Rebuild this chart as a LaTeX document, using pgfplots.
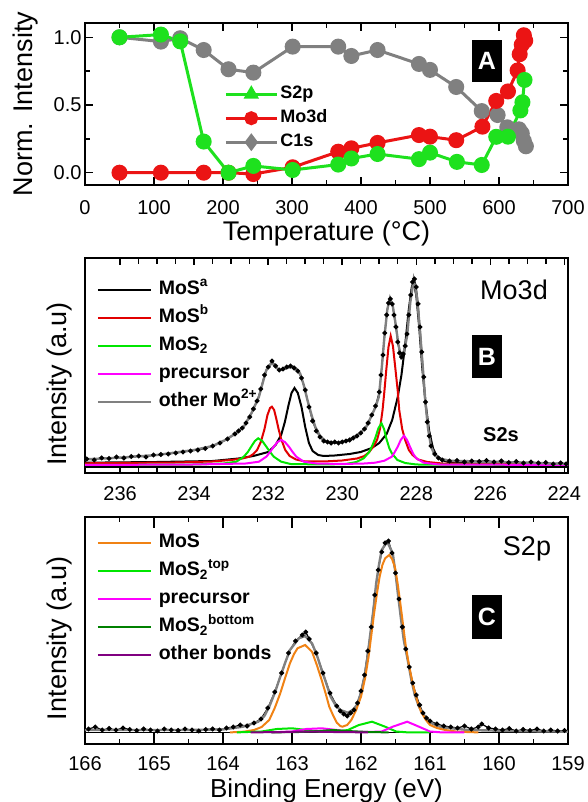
\documentclass[border=0pt]{standalone}
\usepackage{fontspec}
\setmainfont{Liberation Sans}
\usepackage{pgfplots}
\pgfplotsset{compat=1.18}
\definecolor{sgreen}{RGB}{30,225,30}
\definecolor{sred}{RGB}{235,20,20}
\definecolor{sgray}{RGB}{128,128,128}
\definecolor{fgreen}{RGB}{0,230,0}
\definecolor{fred}{RGB}{225,0,0}
\definecolor{fmag}{RGB}{255,0,255}
\definecolor{forange}{RGB}{240,130,20}
\definecolor{fdgreen}{RGB}{0,128,0}
\definecolor{fpurple}{RGB}{128,0,128}

\pgfplotsset{
  panel/.style={
    scale only axis, width=483pt,
    axis line style={line width=2.6pt},
    every tick/.style={black, line width=1.5pt},
    tick align=inside,
    ticklabel style={font=\fontsize{20}{24}\selectfont},
    /pgf/number format/assume math mode=true,
    label style={font=\fontsize{27}{32}\selectfont},
    legend cell align=left,
  },
  spec/.style={panel, x dir=reverse, ytick=\empty,
    legend image code/.code={\draw[##1] (0pt,0pt) -- (53pt,0pt);},
    legend style={draw=none, fill=none, inner sep=0pt, column sep=7pt, row sep=9pt,
      font=\bfseries\fontsize{19.5}{20}\selectfont,
      nodes={inner sep=0pt, text height=14pt, text depth=5pt}},
  },
  alegend/.style={
    legend image code/.code={\draw[mark repeat=2, mark phase=2, ##1] plot coordinates {(0pt,0pt) (25.5pt,0pt) (51pt,0pt)};},
  },
}

\begin{document}
\begin{tikzpicture}
\path[use as bounding box] (0,0) rectangle (587pt,802pt);

% ---------------- panel A
\begin{axis}[panel, alegend, at={(85pt,617pt)}, anchor=south west, height=162pt,
  xmin=0, xmax=700, ymin=-0.0908, ymax=1.1056,
  xtick={0,100,...,700}, minor x tick num=1,
  ytick={0,0.5,1}, minor y tick num=1,
  major tick length=8pt, minor tick length=5pt,
  yticklabel style={/pgf/number format/fixed, /pgf/number format/fixed zerofill,
    /pgf/number format/precision=1},
  xticklabel style={anchor=base, yshift=-30pt},
  xlabel={Temperature (°C)}, ylabel={Norm. Intensity},
  xlabel style={at={(axis description cs:0.5,-0.34)}, anchor=base},
  ylabel style={at={(axis description cs:-0.1097,0.5)}, anchor=base},
  legend style={draw=none, fill=none, inner sep=0pt, column sep=2pt, row sep=7pt,
    at={(axis description cs:0.288,0.614)}, anchor=north west,
    font=\bfseries\fontsize{18}{18}\selectfont,
    nodes={inner sep=0pt, text height=13pt, text depth=4pt}},
]
\addplot[sgray, line width=3pt, mark=*, mark size=6.5pt, forget plot] coordinates {
(50,1.0) (110,0.968) (138,0.993) (172,0.906) (208,0.764) (244,0.739) (301,0.931)
(367,0.931) (386,0.862) (424,0.906) (484,0.803) (500,0.759) (538,0.633) (575,0.455)
(598,0.426) (612,0.335) (629,0.32) (633,0.29) (636,0.235) (639,0.195)};
\addplot[sred, line width=3pt, mark=*, mark size=6.5pt, forget plot] coordinates {
(50,0) (110,0) (172,0) (208,0) (244,-0.01) (301,0.04) (367,0.155) (386,0.18)
(424,0.22) (484,0.278) (500,0.266) (538,0.24) (576,0.34) (596,0.53) (613,0.6)
(627,0.755) (630,0.875) (633,0.945) (636,1.015) (638,0.975)};
\addplot[sgreen, line width=3pt, mark=*, mark size=6.5pt, forget plot] coordinates {
(50,1.0) (110,1.02) (138,0.97) (172,0.23) (208,0.0) (244,0.05) (301,0.02)
(367,0.06) (386,0.105) (424,0.138) (484,0.1) (500,0.148) (539,0.08) (575,0.057)
(596,0.265) (613,0.266) (631,0.46) (634,0.52) (637,0.685)};
\addlegendimage{sgreen, line width=3pt, mark=triangle*, mark size=6pt}
\addlegendentry{S2p}
\addlegendimage{sred, line width=3pt, mark=*, mark size=5.5pt}
\addlegendentry{Mo3d}
\addlegendimage{sgray, line width=3pt, mark=diamond*, mark size=6.5pt}
\addlegendentry{C1s}
\end{axis}

% ---------------- panel B
\begin{axis}[spec, at={(85pt,329pt)}, anchor=south west, height=215pt,
  xmin=223.9, xmax=236.95, ymin=-6, ymax=209,
  xtick={224,226,...,236}, minor x tick num=3,
  major tick length=7pt, minor tick length=6pt,
  xticklabel style={anchor=base, yshift=-28pt},
  ylabel={Intensity (a.u)},
  ylabel style={at={(axis description cs:-0.0373,0.414)}, anchor=base},
  legend style={at={(axis description cs:0.024,0.898)}, anchor=north west},
]
\addplot[black, line width=1.6pt, forget plot] coordinates {(237.5,0) (223.5,0)};
\addplot[black, line width=1.2pt, mark=*, mark size=1.8pt, forget plot] coordinates {
(236.9,8) (236.7,7) (236.5,9) (236.3,8.5) (236.1,10) (235.9,9) (235.7,10.5) (235.5,11)
(235.3,10) (235.1,12) (234.9,12.5) (234.7,13) (234.5,14) (234.3,15) (234.1,16) (233.9,17)
(233.7,18.5) (233.5,21) (233.3,24) (233.1,28) (232.9,33) (232.8,36) (232.7,39) (232.6,44)
(232.5,50) (232.4,58) (232.3,66) (232.2,78) (232.1,92) (232.0,100) (231.9,106) (231.8,101)
(231.7,97) (231.6,98) (231.5,100) (231.4,101) (231.3,99) (231.2,96) (231.1,89) (231.0,77)
(230.9,60) (230.8,46) (230.7,36) (230.6,30) (230.5,26) (230.4,25) (230.3,24) (230.2,25)
(230.1,24) (230.0,25) (229.9,26) (229.8,27) (229.7,29) (229.6,31) (229.5,34) (229.4,38)
(229.3,44) (229.2,52) (229.1,61) (229.0,75) (228.95,92) (228.9,112) (228.85,134) (228.8,152)
(228.75,164) (228.7,168) (228.65,163) (228.6,152) (228.55,140) (228.5,125) (228.45,114)
(228.4,110) (228.35,113) (228.3,121) (228.25,133) (228.2,152) (228.15,172) (228.1,185)
(228.05,188) (228.0,180) (227.95,163) (227.9,140) (227.85,115) (227.8,90) (227.75,65)
(227.7,45) (227.65,31) (227.6,21) (227.5,13) (227.4,9) (227.3,7) (227.1,6) (226.9,6.5)
(226.7,5) (226.5,6) (226.3,5.5) (226.1,6.5) (225.9,5) (225.7,6) (225.5,4.5) (225.3,5.5)
(225.1,4) (224.9,5) (224.7,4) (224.5,4.5) (224.3,3) (224.1,4) (223.95,3)};
\addplot[black, line width=2pt, forget plot] coordinates {
(236.95,4.3) (235,5) (233.5,6) (232.8,8.5) (232.4,11) (232.0,15) (231.8,22) (231.65,32)
(231.55,45) (231.45,62) (231.37,74) (231.29,79) (231.2,74) (231.1,60) (231.0,40) (230.9,24)
(230.8,16) (230.65,12) (230.5,11) (230.2,11.5) (229.8,13) (229.5,15) (229.2,19) (229.0,24)
(228.8,33) (228.65,47) (228.5,70) (228.4,92) (228.3,122) (228.2,158) (228.12,180) (228.07,184)
(228.0,172) (227.92,140) (227.84,100) (227.75,64) (227.65,36) (227.55,19) (227.45,11)
(227.3,7) (227.1,4.5) (226.5,3.5) (223.9,3)};
\addplot[fred, line width=2pt, forget plot] coordinates {
(236.95,3.7) (234.5,4.5) (233.5,5.5) (233,7) (232.7,8.5) (232.5,10.5) (232.4,13) (232.3,17)
(232.2,25) (232.1,38) (232.02,52) (231.95,59) (231.9,60.3) (231.84,57) (231.78,48) (231.72,38)
(231.65,28) (231.54,17) (231.42,11) (231.25,7.5) (231.0,5.5) (230.5,5.5) (230.0,6.5)
(229.6,8.5) (229.4,11) (229.27,15) (229.15,21) (229.06,27) (228.98,38) (228.91,57) (228.86,76)
(228.81,97) (228.75,120) (228.69,131) (228.63,121) (228.56,97) (228.5,76) (228.46,57)
(228.38,38) (228.3,27) (228.2,17) (228.1,12) (227.95,7.5) (227.7,5) (227.3,3.5) (226.5,3)
(223.9,2.5)};
\addplot[fgreen, line width=2pt, forget plot] coordinates {
(236.95,2) (234,2.5) (233.2,3.5) (232.86,5.3) (232.66,10.3) (232.55,15) (232.46,20.3)
(232.36,26) (232.27,28.7) (232.16,26) (232.05,20.3) (231.95,15) (231.85,10.3) (231.65,5.3)
(231.4,3) (230.5,2.5) (229.9,3) (229.62,5) (229.42,8.7) (229.27,15) (229.18,22) (229.11,28.7)
(229.02,39) (228.94,43.7) (228.87,38) (228.81,28.7) (228.73,19) (228.66,13.7) (228.51,7)
(228.3,4) (228,2.5) (223.9,2)};
\addplot[fmag, line width=2pt, forget plot] coordinates {
(236.95,2) (234,2.5) (232.6,3.5) (232.25,5.3) (232.05,10.3) (231.95,15) (231.85,20.3)
(231.75,25) (231.65,27) (231.55,25) (231.44,20.3) (231.34,15) (231.24,10.3) (231.04,5.3)
(230.7,3.5) (230,3) (229.4,3.5) (229.11,4.3) (228.86,6.3) (228.66,10.3) (228.58,15)
(228.5,20.3) (228.42,27) (228.33,31.3) (228.25,27) (228.17,20.3) (228.08,13) (228.0,8.7)
(227.8,4.3) (227.4,2.5) (223.9,2)};
\addplot[sgray, line width=2.4pt, forget plot] coordinates {
(236.95,7.7) (236,9.3) (235,12) (234,17) (233.5,21) (233.16,27) (232.9,33) (232.66,40.3)
(232.45,54) (232.25,70.3) (232.12,88) (232.05,97) (231.9,104.3) (231.8,100) (231.7,97)
(231.6,97.5) (231.52,98.7) (231.34,100.3) (231.24,98) (231.14,93.7) (231.04,82) (230.94,67)
(230.83,52) (230.73,40.3) (230.6,31) (230.43,25.3) (230.13,24.3) (229.82,27) (229.52,33.7)
(229.35,40) (229.22,50.3) (229.1,60) (229.01,70.3) (228.93,100) (228.86,130.3) (228.78,158)
(228.71,168.7) (228.63,160) (228.56,143.7) (228.48,122) (228.41,110.3) (228.33,116)
(228.25,130.3) (228.16,165) (228.07,187) (227.98,170) (227.9,137) (227.82,98) (227.75,63.7)
(227.68,38) (227.6,20.3) (227.5,12) (227.4,8.7) (227.1,6.3) (226.1,5.3) (225,4.3) (223.9,3)};
\addlegendimage{black, line width=2pt}
\addlegendentry{MoS\textsuperscript{a}}
\addlegendimage{fred, line width=2pt}
\addlegendentry{MoS\textsuperscript{b}}
\addlegendimage{fgreen, line width=2pt}
\addlegendentry{MoS\textsubscript{2}}
\addlegendimage{fmag, line width=2pt}
\addlegendentry{precursor}
\addlegendimage{sgray, line width=2pt}
\addlegendentry{other Mo\textsuperscript{2+}}
\end{axis}

% ---------------- panel C
\begin{axis}[spec, at={(85pt,58pt)}, anchor=south west, height=227pt,
  xmin=159, xmax=166, ymin=-9, ymax=218,
  xtick={159,160,...,166}, minor x tick num=1,
  major tick length=11pt, minor tick length=5pt,
  xticklabel style={anchor=base, yshift=-27pt},
  xlabel={Binding Energy (eV)}, ylabel={Intensity (a.u)},
  xlabel style={at={(axis description cs:0.5,-0.2335)}, anchor=base, font=\fontsize{26}{30}\selectfont},
  ylabel style={at={(axis description cs:-0.0373,0.466)}, anchor=base},
  legend style={at={(axis description cs:0.024,0.926)}, anchor=north west},
]
\addplot[black, line width=1.6pt, forget plot] coordinates {(166.5,2.6) (158.5,2.6)};
\addplot[black, line width=1.2pt, mark=*, mark size=1.8pt, forget plot] coordinates {
(165.95,6) (165.85,8) (165.75,5) (165.65,6.5) (165.55,5) (165.45,7) (165.35,5.5) (165.25,4.5)
(165.15,6) (165.05,5) (164.95,4) (164.85,6) (164.75,5) (164.65,4.5) (164.55,6) (164.45,5)
(164.35,4) (164.25,5.5) (164.15,6) (164.05,5) (163.95,7) (163.85,8) (163.75,10) (163.65,9)
(163.55,12) (163.45,16) (163.35,27) (163.25,43) (163.15,62) (163.05,82) (162.95,94)
(162.85,100) (162.8,103) (162.75,96) (162.65,82) (162.55,62) (162.45,42) (162.35,29)
(162.3,24) (162.25,21) (162.2,19) (162.15,22) (162.1,25) (162.05,32) (162.0,44) (161.95,60)
(161.9,84) (161.85,108) (161.8,140) (161.75,165) (161.7,183) (161.65,192) (161.6,194)
(161.55,182) (161.5,162) (161.45,136) (161.4,108) (161.35,86) (161.3,68) (161.25,52)
(161.2,40) (161.15,30) (161.1,22) (161.05,17) (161.0,14) (160.9,11) (160.8,9) (160.7,8)
(160.6,7) (160.5,9) (160.4,6) (160.3,8) (160.25,11) (160.15,7) (160.05,6) (159.95,5)
(159.85,6.5) (159.75,4) (159.65,5.5) (159.55,4.5) (159.45,6) (159.35,4) (159.25,5)
(159.15,4) (159.05,4.5)};
\addplot[sgray, line width=2.4pt, forget plot] coordinates {
(166,5) (165,5) (164.5,5) (163.98,5.7) (163.71,8.3) (163.49,13.3) (163.4,19) (163.33,28.3)
(163.25,42) (163.17,58.3) (163.1,72) (163.03,85) (162.9,96.7) (162.81,99) (162.71,91.7)
(162.64,80) (162.57,65) (162.5,51) (162.44,38.3) (162.37,30) (162.3,25) (162.19,22.3)
(162.12,25) (162.06,30) (162.0,42) (161.95,58.3) (161.91,76) (161.87,98.3) (161.82,125)
(161.78,151.7) (161.74,170) (161.7,185) (161.62,193.3) (161.54,181.7) (161.5,162)
(161.46,138.3) (161.42,116) (161.38,95) (161.32,74) (161.27,55) (161.22,40) (161.16,28.3)
(161.09,20) (161.02,13.3) (160.92,10) (160.83,7.7) (160.45,5) (159.8,4) (159,3.3)};
\addplot[forange, line width=2pt, forget plot] coordinates {
(163.9,2.6) (163.7,3.3) (163.55,5) (163.44,8) (163.33,15) (163.25,27) (163.17,41.7) (163.1,57)
(163.03,71.7) (162.97,81) (162.92,86.7) (162.81,90) (162.71,83.3) (162.64,70) (162.57,55)
(162.51,41) (162.46,28.3) (162.4,19) (162.35,12.3) (162.3,9) (162.27,8.3) (162.2,10)
(162.14,15) (162.07,25) (162.0,38.3) (161.94,57) (161.89,78.3) (161.85,100) (161.81,121.7)
(161.77,141) (161.73,158.3) (161.69,170) (161.65,176.7) (161.59,180) (161.55,176)
(161.51,168.3) (161.47,152) (161.43,131.7) (161.39,110) (161.35,88.3) (161.3,68)
(161.24,48.3) (161.18,33) (161.13,23.3) (161.06,15) (161.0,10) (160.9,7) (160.78,5)
(160.6,3.3) (160.3,2.6)};
\addplot[fgreen, line width=2pt, forget plot] coordinates {
(163.8,2.6) (163.44,3.5) (163.22,6) (163.0,6.7) (162.79,5) (162.57,3) (162.4,3) (162.19,5)
(162.03,10) (161.84,13.3) (161.65,8.3) (161.49,3.5) (161.32,2.6) (161.0,2.6)};
\addplot[fmag, line width=2pt, forget plot] coordinates {
(163.3,2.6) (163.0,3.5) (162.79,6) (162.57,6.7) (162.35,5) (162.14,3) (161.9,3) (161.7,3.5)
(161.54,8.3) (161.33,13.3) (161.16,8.3) (161.0,3.5) (160.83,2.6) (160.5,2.6)};
\addplot[fdgreen, line width=2pt, forget plot] coordinates {
(163.3,2.6) (162.9,3) (162.6,4) (162.4,5) (162.2,4) (161.9,3) (161.6,2.6)};
\addplot[fpurple, line width=2pt, forget plot] coordinates {
(163.6,2.6) (163.1,3) (162.8,3.5) (162.4,3) (161.9,2.6)};
\addlegendimage{forange, line width=2pt}
\addlegendentry{MoS}
\addlegendimage{fgreen, line width=2pt}
\addlegendentry{MoS\textsubscript{2}\textsuperscript{top}}
\addlegendimage{fmag, line width=2pt}
\addlegendentry{precursor}
\addlegendimage{fdgreen, line width=2pt}
\addlegendentry{MoS\textsubscript{2}\textsuperscript{bottom}}
\addlegendimage{fpurple, line width=2pt}
\addlegendentry{other bonds}
\end{axis}

% panel tags and inner titles
\node[fill=black, text=white, font=\bfseries\fontsize{25}{25}\selectfont, minimum width=30pt, minimum height=42pt, inner sep=0pt] at (487pt,741pt) {A};
\node[fill=black, text=white, font=\bfseries\fontsize{25}{25}\selectfont, minimum width=30pt, minimum height=43pt, inner sep=0pt] at (487pt,445.5pt) {B};
\node[fill=black, text=white, font=\bfseries\fontsize{25}{25}\selectfont, minimum width=30pt, minimum height=44pt, inner sep=0pt] at (487pt,185pt) {C};
\node[font=\fontsize{27}{27}\selectfont, anchor=base] at (514pt,502pt) {Mo3d};
\node[font=\fontsize{27}{27}\selectfont, anchor=base] at (527pt,246pt) {S2p};
\node[font=\bfseries\fontsize{20}{20}\selectfont, anchor=base] at (501pt,360pt) {S2s};
\end{tikzpicture}
\end{document}
